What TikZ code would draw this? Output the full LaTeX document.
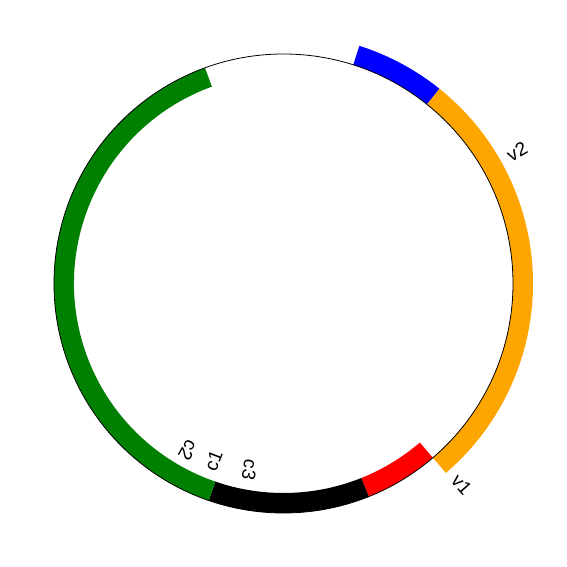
\documentclass[tikz,border=0pt]{standalone}
\usepackage{fontspec}
\setmainfont{Liberation Sans}
\definecolor{segblue}{RGB}{0,0,255}
\definecolor{segorange}{RGB}{255,165,0}
\definecolor{segred}{RGB}{255,0,0}
\definecolor{seggreen}{RGB}{0,128,0}
\newcommand\ringseg[5]{\fill[#5] (#1:#3) arc[start angle=#1,end angle=#2,radius=#3] -- (#2:#4) arc[start angle=#2,end angle=#1,radius=#4] -- cycle;}
\begin{document}
\begin{tikzpicture}[x=1pt,y=1pt,
  lbl/.style={font=\fontsize{19}{19}\selectfont, inner sep=0pt},
  ring/.style={draw=black, line width=0.8pt}]
\useasboundingbox (0,0) rectangle (567,567);
\begin{scope}[shift={(283.5,283.5)}]
  % outer track
  \ringseg{72.3}{51.3}{229.5}{249.5}{segblue}
  \ringseg{51.3}{-49.4}{229.5}{249.5}{segorange}
  % inner track
  \ringseg{-49.4}{-68.2}{229.5}{209.5}{segred}
  \ringseg{-68.2}{-109}{229.5}{209.5}{black}
  \ringseg{-109}{-250}{229.5}{209.5}{seggreen}
  \coordinate (c) at (0,0);
  \draw[ring] (c) circle[radius=229.5];
  % labels
  \node[lbl, rotate=29.4] (v2) at (29.4:268) {v2};
  \node[lbl, rotate=-48.5] (v1) at (-48.5:269) {v1};
  \node[lbl, rotate=-119.8] (c2) at (-119.8:192) {c2};
  \node[lbl, rotate=68.5] (c1) at (-111.5:190.8) {c1};
  \node[lbl, rotate=-100.3] (c3) at (-100.3:189.6) {c3};
\end{scope}
\end{tikzpicture}
\end{document}
